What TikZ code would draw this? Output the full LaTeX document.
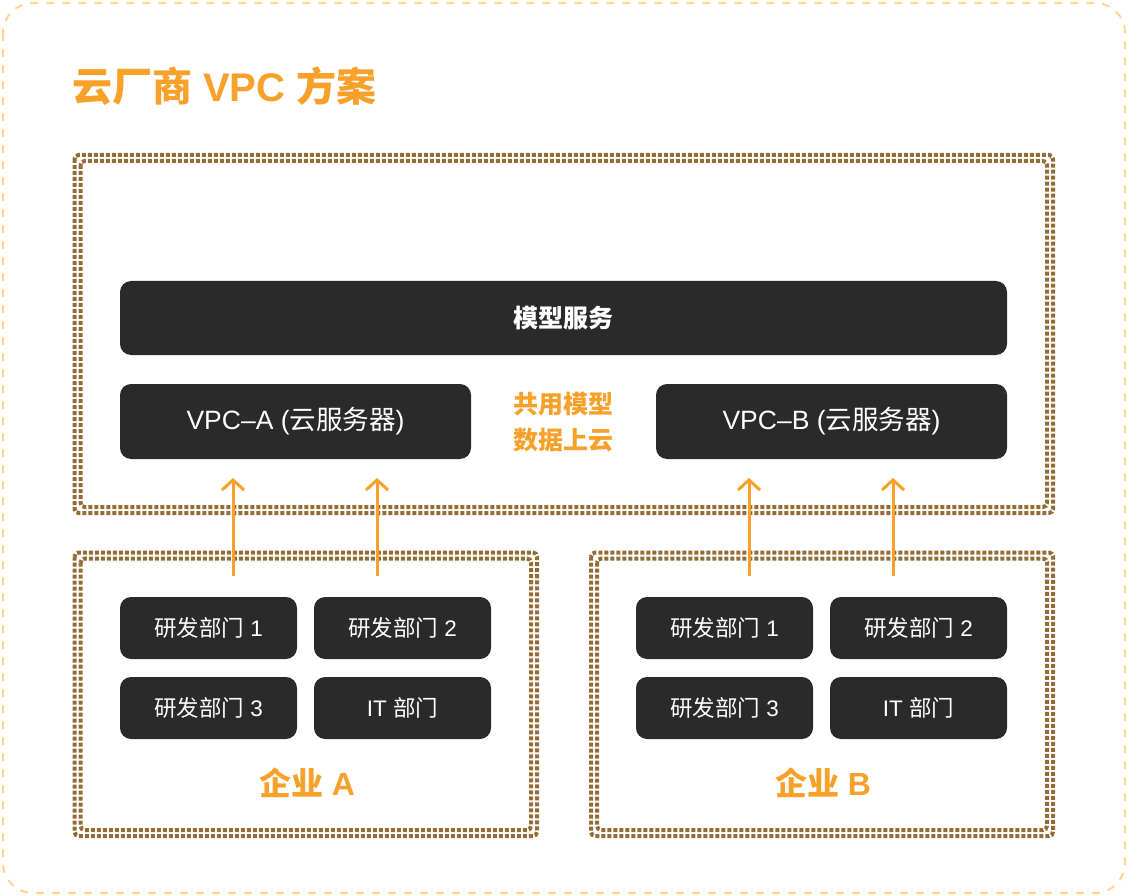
\documentclass[tikz,border=0pt]{standalone}
\usepackage{fontspec}
\setmainfont{Liberation Sans}
\newfontfamily\cjk{Noto Sans CJK SC}
\usetikzlibrary{arrows.meta}
\definecolor{org}{HTML}{F7A12B}
\definecolor{lightorg}{HTML}{FFD495}
\definecolor{dark}{HTML}{2A2A2A}
\definecolor{dotc}{HTML}{946C35}
\tikzset{
  darkbox/.style={fill=dark, rounded corners=11pt, text=white, inner sep=0pt, draw=none},
  deptbox/.style={darkbox, minimum width=177pt, minimum height=62pt, font=\fontsize{22.5}{27}\selectfont},
  vpcbox/.style={darkbox, minimum width=351pt, minimum height=75pt, font=\fontsize{26.5}{31}\selectfont},
  dotline/.style={draw=dotc, line width=4pt, dash pattern=on 4pt off 2pt, rounded corners=4pt},
  uparrow/.style={draw=org, line width=3pt, -{Straight Barb[length=10pt,width=22pt,line width=3pt]}},
  orgtext/.style={text=org, inner sep=0pt, font=\bfseries}
}
\begin{document}
\begin{tikzpicture}[x=1pt,y=-1pt]
\useasboundingbox (0,0) rectangle (1128,896);
% outer dashed frame
\draw[lightorg, line width=2pt, dash pattern=on 8pt off 8pt, rounded corners=30pt] (3,3) rectangle (1125,893);
% title
\node[orgtext, anchor=west, font=\bfseries\fontsize{40}{46}\selectfont] (title) at (72,86) {{\cjk 云厂商} VPC {\cjk 方案}};
% cloud region (double dotted)
\draw[dotline] (74.5,155) rectangle (1053,513);
\draw[dotline] (80.5,161) rectangle (1047,507);
% enterprise A
\draw[dotline] (74.5,552.5) rectangle (537,836);
\draw[dotline] (80.5,558.5) rectangle (531,830);
% enterprise B
\draw[dotline] (591,552.5) rectangle (1053,836);
\draw[dotline] (597,558.5) rectangle (1047,830);
% boxes
\node[darkbox, minimum width=887pt, minimum height=74pt, font=\bfseries\fontsize{25}{30}\selectfont] (model) at (563.5,318) {\cjk 模型服务};
\node[vpcbox] (vpcA) at (295.5,421.5) {VPC–A ({\cjk 云服务器})};
\node[vpcbox] (vpcB) at (831.5,421.5) {VPC–B ({\cjk 云服务器})};
\node[orgtext, align=center, font=\cjk\bfseries\fontsize{25}{36}\selectfont] (share) at (563.5,422) {共用模型\\数据上云};
\node[deptbox] (a1) at (208.5,628) {{\cjk 研发部门} 1};
\node[deptbox] (a2) at (402.5,628) {{\cjk 研发部门} 2};
\node[deptbox] (a3) at (208.5,708) {{\cjk 研发部门} 3};
\node[deptbox] (a4) at (402.5,708) {IT {\cjk 部门}};
\node[deptbox] (b1) at (724.5,628) {{\cjk 研发部门} 1};
\node[deptbox] (b2) at (918.5,628) {{\cjk 研发部门} 2};
\node[deptbox] (b3) at (724.5,708) {{\cjk 研发部门} 3};
\node[deptbox] (b4) at (918.5,708) {IT {\cjk 部门}};
\node[orgtext, font=\bfseries\fontsize{32}{38}\selectfont] (entA) at (307,783) {{\cjk 企业} A};
\node[orgtext, font=\bfseries\fontsize{32}{38}\selectfont] (entB) at (823,783) {{\cjk 企业} B};
% arrows
\coordinate (s1) at (233,576); \coordinate (e1) at (233,478);
\coordinate (s2) at (377,576); \coordinate (e2) at (377,478);
\coordinate (s3) at (749,576); \coordinate (e3) at (749,478);
\coordinate (s4) at (893,576); \coordinate (e4) at (893,478);
\draw[uparrow] (s1) -- (e1);
\draw[uparrow] (s2) -- (e2);
\draw[uparrow] (s3) -- (e3);
\draw[uparrow] (s4) -- (e4);
\end{tikzpicture}
\end{document}
